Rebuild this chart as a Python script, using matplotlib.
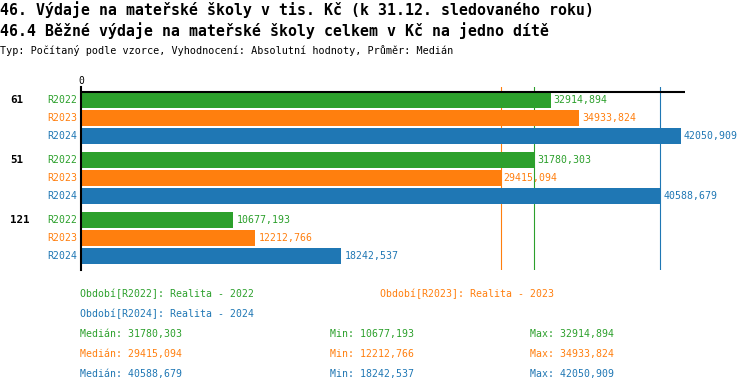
import matplotlib

matplotlib.use("Agg")

import matplotlib.pyplot as plt
import matplotlib.transforms as mtransforms
import numpy as np

W, H = 750, 392
GREEN = "#2ca02c"
ORANGE = "#ff7f0e"
BLUE = "#1f77b4"
MONO = "DejaVu Sans Mono"

groups = ["61", "51", "121"]
series = ["R2022", "R2023", "R2024"]
series_colors = [GREEN, ORANGE, BLUE]
period_labels = ["Realita - 2022", "Realita - 2023", "Realita - 2024"]
vals_2022 = [32914.894, 31780.303, 10677.193]
vals_2023 = [34933.824, 29415.094, 12212.766]
vals_2024 = [42050.909, 40588.679, 18242.537]

title1 = "46. Výdaje na mateřské školy v tis. Kč (k 31.12. sledovaného roku)"
title2 = "46.4 Běžné výdaje na mateřské školy celkem v Kč na jedno dítě"
subtitle = "Typ: Počítaný podle vzorce, Vyhodnocení: Absolutní hodnoty, Průměr: Medián"


def fx(x):
    return x / W


def fy(y):
    return 1 - y / H


def fmt(v):
    return f"{v:.3f}".replace(".", ",")


plt.rcParams["font.family"] = MONO

fig = plt.figure(figsize=(W / 100, H / 100), dpi=100, facecolor="white")
ax_left, ax_right, ax_top, ax_bot = 81, 685, 87, 270
ax = fig.add_axes([fx(ax_left), fy(ax_bot), (ax_right - ax_left) / W, (ax_bot - ax_top) / H])

all_vals = [vals_2022, vals_2023, vals_2024]
xmax = max(max(v) for v in all_vals) * 1.0067
ax.set_xlim(0, xmax)
ax.set_ylim(ax_bot - ax_top, 0)

group_pitch, bar_pitch, bar_h, first = 60, 18, 16, 13
label_tf = mtransforms.offset_copy(ax.get_yaxis_transform(), fig=fig, x=-4, y=0, units="dots")
group_tf = mtransforms.offset_copy(ax.get_yaxis_transform(), fig=fig, x=-71, y=0, units="dots")

for k, (name, vals, col) in enumerate(zip(series, all_vals, series_colors)):
    ys = [first + g * group_pitch + k * bar_pitch for g in range(len(groups))]
    ax.barh(ys, vals, height=bar_h, color=col, zorder=2)
    for y, v in zip(ys, vals):
        ax.annotate(fmt(v), (v, y), xytext=(3, 0), textcoords="offset pixels",
                    ha="left", va="center", fontsize=7.1, color=col)
        ax.text(0, y, name, transform=label_tf, ha="right", va="center",
                fontsize=7.1, color=col)
    ax.axvline(np.median(vals), color=col, lw=0.8, zorder=1)

for g, name in enumerate(groups):
    ax.text(0, first + g * group_pitch, name, transform=group_tf, ha="left",
            va="center", fontsize=7.8, fontweight="bold", color="black")

ax.axhline(5, color="black", lw=1.5, zorder=3)
for s in ["top", "right", "bottom"]:
    ax.spines[s].set_visible(False)
ax.spines["left"].set_linewidth(1.5)
ax.spines["left"].set_zorder(4)
ax.set_yticks([])
ax.xaxis.set_ticks_position("top")
ax.set_xticks([0])
ax.tick_params(axis="x", length=0, pad=1, labelsize=7)

fig.text(0, fy(10), title1, ha="left", va="center", fontsize=10.75, fontweight="bold")
fig.text(0, fy(31), title2, ha="left", va="center", fontsize=10.75, fontweight="bold")
fig.text(0, fy(50), subtitle, ha="left", va="center", fontsize=7.25)

legend_pos = [(80, 294), (380, 294), (80, 314)]
for (x, y), name, lab, col in zip(legend_pos, series, period_labels, series_colors):
    fig.text(fx(x), fy(y), f"Období[{name}]: {lab}", ha="left", va="center",
             fontsize=7.1, color=col)

for k, (vals, col) in enumerate(zip(all_vals, series_colors)):
    y = fy(334 + k * 20)
    fig.text(fx(80), y, f"Medián: {fmt(np.median(vals))}", ha="left", va="center", fontsize=7.1, color=col)
    fig.text(fx(330), y, f"Min: {fmt(min(vals))}", ha="left", va="center", fontsize=7.1, color=col)
    fig.text(fx(530), y, f"Max: {fmt(max(vals))}", ha="left", va="center", fontsize=7.1, color=col)

fig.savefig("out.png", dpi=100, facecolor="white")
